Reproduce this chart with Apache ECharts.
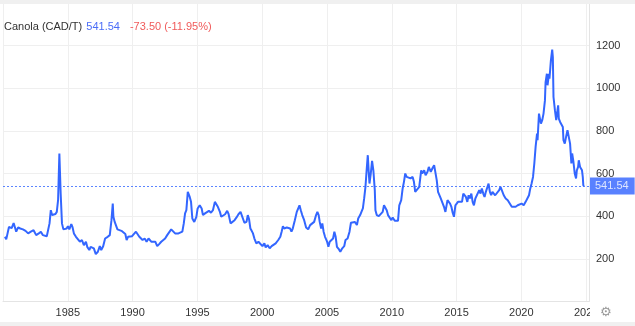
<!DOCTYPE html>
<html><head><meta charset="utf-8">
<script src="https://cdn.jsdelivr.net/npm/echarts@6/dist/echarts.min.js"></script>
<style>html,body{margin:0;padding:0;background:#fff}#c{width:635px;height:326px}</style>
</head><body><div id="c"></div>
<script>
// Decimal years (x)
const years = [
1980.15,1980.25,1980.46,1980.56,1980.67,1980.82,1980.92,1981.02,1981.17,1981.33,
1981.54,1981.74,1981.94,1982.15,1982.36,1982.56,1982.76,1982.92,1983.07,1983.22,
1983.38,1983.48,1983.59,1983.69,1983.79,1983.89,1984.05,1984.15,1984.25,1984.35,
1984.40,1984.45,1984.55,1984.66,1984.76,1984.91,1985.01,1985.12,1985.27,1985.37,
1985.47,1985.63,1985.78,1985.93,1986.09,1986.24,1986.40,1986.50,1986.66,1986.76,
1986.86,1987.01,1987.16,1987.32,1987.47,1987.58,1987.73,1987.88,1988.08,1988.24,
1988.37,1988.47,1988.52,1988.62,1988.73,1988.83,1988.98,1989.14,1989.29,1989.44,
1989.54,1989.65,1989.80,1989.96,1990.11,1990.26,1990.36,1990.52,1990.62,1990.77,
1990.93,1991.08,1991.23,1991.34,1991.44,1991.59,1991.75,1991.90,1992.05,1992.21,
1992.36,1992.51,1992.67,1992.82,1992.98,1993.13,1993.28,1993.38,1993.54,1993.69,
1993.84,1993.95,1994.05,1994.15,1994.26,1994.36,1994.41,1994.51,1994.61,1994.76,
1994.92,1995.02,1995.18,1995.33,1995.43,1995.59,1995.74,1995.89,1996.05,1996.20,
1996.35,1996.48,1996.58,1996.74,1996.84,1996.99,1997.14,1997.30,1997.41,1997.56,
1997.71,1997.87,1998.02,1998.17,1998.33,1998.48,1998.63,1998.79,1998.89,1998.99,
1999.09,1999.19,1999.29,1999.40,1999.55,1999.71,1999.86,2000.02,2000.17,2000.27,
2000.42,2000.58,2000.73,2000.88,2001.04,2001.14,2001.24,2001.40,2001.50,2001.60,
2001.70,2001.80,2001.90,2002.01,2002.16,2002.26,2002.36,2002.52,2002.67,2002.78,
2002.88,2002.98,2003.09,2003.24,2003.39,2003.55,2003.70,2003.85,2004.01,2004.16,
2004.26,2004.36,2004.44,2004.55,2004.64,2004.74,2004.85,2005.01,2005.11,2005.21,
2005.31,2005.47,2005.57,2005.67,2005.77,2005.93,2006.03,2006.18,2006.33,2006.43,
2006.59,2006.74,2006.85,2007.00,2007.16,2007.31,2007.41,2007.56,2007.66,2007.77,
2007.87,2007.97,2008.08,2008.15,2008.23,2008.28,2008.38,2008.48,2008.58,2008.69,
2008.74,2008.84,2009.00,2009.15,2009.30,2009.40,2009.51,2009.61,2009.71,2009.81,
2009.97,2010.07,2010.23,2010.38,2010.48,2010.58,2010.73,2010.84,2010.94,2011.04,
2011.15,2011.30,2011.45,2011.61,2011.71,2011.81,2011.96,2012.12,2012.27,2012.35,
2012.50,2012.61,2012.76,2012.86,2013.01,2013.17,2013.27,2013.42,2013.47,2013.57,
2013.68,2013.78,2013.88,2014.03,2014.14,2014.30,2014.40,2014.50,2014.60,2014.70,
2014.80,2014.91,2015.01,2015.11,2015.26,2015.42,2015.52,2015.62,2015.72,2015.83,
2015.93,2016.03,2016.14,2016.24,2016.34,2016.45,2016.60,2016.75,2016.85,2016.95,
2017.06,2017.16,2017.26,2017.37,2017.47,2017.57,2017.67,2017.77,2017.87,2017.98,
2018.13,2018.29,2018.39,2018.49,2018.64,2018.79,2018.95,2019.10,2019.26,2019.41,
2019.56,2019.72,2019.87,2020.02,2020.18,2020.33,2020.48,2020.59,2020.69,2020.79,
2020.90,2021.00,2021.10,2021.21,2021.25,2021.36,2021.41,2021.51,2021.61,2021.71,
2021.82,2021.87,2021.97,2022.02,2022.13,2022.17,2022.28,2022.38,2022.43,2022.48,
2022.59,2022.69,2022.79,2022.84,2022.89,2022.99,2023.09,2023.20,2023.25,2023.35,
2023.45,2023.56,2023.66,2023.76,2023.86,2023.92,2024.02,2024.12,2024.22,2024.28,
2024.38,2024.43,2024.53,2024.63,2024.68,2024.74,2024.78,2024.84
];
// Canola price, CAD per tonne
const prices = [
303,291,349,353,344,367,348,327,347,342,
338,331,319,327,334,311,319,327,311,319,
306,311,366,428,405,413,410,420,475,694,
701,506,366,338,347,342,353,338,363,347,
319,303,295,280,288,264,280,256,241,256,
249,249,222,233,259,241,259,295,303,311,
381,459,397,373,366,338,347,331,334,316,
288,303,295,306,303,327,319,303,295,288,
295,280,295,300,280,272,280,259,269,280,
288,295,311,303,338,331,319,311,319,316,
327,366,413,428,514,522,490,467,389,373,
397,436,451,436,405,413,405,425,416,428,
467,475,444,420,397,405,409,425,409,366,
358,381,394,409,420,413,369,373,405,385,
342,331,319,295,272,280,275,259,272,253,
264,249,259,253,272,270,288,303,327,353,
342,334,347,340,342,327,342,381,420,428,
451,428,405,381,347,338,358,366,373,405,
420,405,373,342,366,327,303,280,256,280,
288,295,327,303,256,244,233,249,259,288,
295,327,369,366,373,358,389,405,420,436,
483,537,631,686,600,553,600,659,615,522,
428,405,400,409,420,451,459,428,405,397,
381,394,378,381,378,451,475,530,561,600,
584,584,577,584,561,514,522,537,615,600,
615,592,608,631,608,628,639,639,569,514,
522,483,490,444,420,475,483,459,444,416,
397,451,459,467,459,467,506,514,490,467,
498,483,506,467,451,483,490,522,506,530,
506,490,514,522,553,514,498,514,522,498,
506,522,537,522,498,483,475,467,444,451,
444,451,450,459,451,467,475,498,530,553,
584,647,725,787,756,881,889,834,850,881,
943,1029,1068,1014,1068,1045,1131,1181,1146,959,
897,850,897,920,858,842,850,818,756,740,
772,803,806,740,647,694,654,600,577,615,
631,662,631,631,615,584,545,541.54
];
const seriesName = 'Canola (CAD/T)';
const lastPrice = 541.54;
const changeText = '-73.50 (-11.95%)';
const yearTicks = [1985,1990,1995,2000,2005,2010,2015,2020,2025];
const priceTicks = [200,400,600,800,1000,1200];

const BLUE = '#3366ff';
const FONT = 'Arial, "Liberation Sans", sans-serif';
const data = years.map((y, i) => [y, prices[i]]);

const chart = echarts.init(document.getElementById('c'), null, {renderer: 'canvas'});
chart.setOption({
  animation: false,
  backgroundColor: '#fff',
  textStyle: {fontFamily: FONT},
  title: {
    left: 4, top: 21, padding: 0,
    text: '{a|' + seriesName + '} {b|' + lastPrice.toFixed(2) + '}{c|' + changeText + '}',
    textStyle: {
      fontSize: 11, fontWeight: 'normal',
      rich: {
        a: {color: '#333', fontSize: 11, fontFamily: FONT},
        b: {color: '#4a6cf7', fontSize: 11, fontFamily: FONT, padding: [0, 10, 0, 1]},
        c: {color: '#f05a5a', fontSize: 11, fontFamily: FONT}
      }
    }
  },
  grid: {left: 0, right: 46, top: 3, bottom: 24.6},
  xAxis: {
    type: 'value', min: 1980, max: 2025.22, interval: 5,
    axisLine: {show: true, lineStyle: {color: '#e4e4e4'}},
    axisTick: {show: false},
    splitLine: {show: true, lineStyle: {color: '#efefef'}},
    axisLabel: {
      color: '#333', fontSize: 11, margin: 6, fontFamily: FONT,
      formatter: v => yearTicks.includes(Math.round(v * 100) / 100) ? String(v) : ''
    }
  },
  yAxis: {
    type: 'value', position: 'right', min: 0, max: 1400, interval: 200,
    axisLine: {show: true, lineStyle: {color: '#e4e4e4'}},
    axisTick: {show: false},
    splitLine: {show: true, lineStyle: {color: '#efefef'}},
    axisLabel: {
      color: '#333', fontSize: 11, margin: 7, fontFamily: FONT,
      formatter: v => priceTicks.includes(v) ? String(v) : ''
    }
  },
  series: [{
    type: 'line', name: seriesName, data: data,
    showSymbol: false, smooth: false,
    lineStyle: {color: BLUE, width: 2},
    itemStyle: {color: BLUE},
    markLine: {
      silent: true, symbol: ['none', 'none'],
      lineStyle: {color: BLUE, type: [2, 2], width: 1, opacity: 0.8},
      label: {
        show: true, position: 'end', distance: 1,
        formatter: () => lastPrice.toFixed(2),
        backgroundColor: '#2f62ff', color: '#fff', fontSize: 11,
        fontFamily: FONT, padding: [3, 6, 3, 5]
      },
      data: [{yAxis: lastPrice}]
    }
  }],
  graphic: [
    {type: 'rect', left: 0, top: 0, shape: {width: 635, height: 4}, style: {fill: '#f0f0f0'}, z: 100},
    {type: 'rect', left: 0, top: 322, shape: {width: 635, height: 4}, style: {fill: '#f0f0f0'}, z: 100},
    {type: 'rect', left: 0, top: 4, shape: {width: 1, height: 297}, style: {fill: '#fff'}, z: 100},
    {type: 'rect', left: 590, top: 303, shape: {width: 45, height: 19}, style: {fill: '#fff'}, z: 100},
    {type: 'text', left: 600, top: 306, style: {text: '⚙', fill: '#999', font: '13px "DejaVu Sans"'}, z: 101}
  ]
});
</script></body></html>
